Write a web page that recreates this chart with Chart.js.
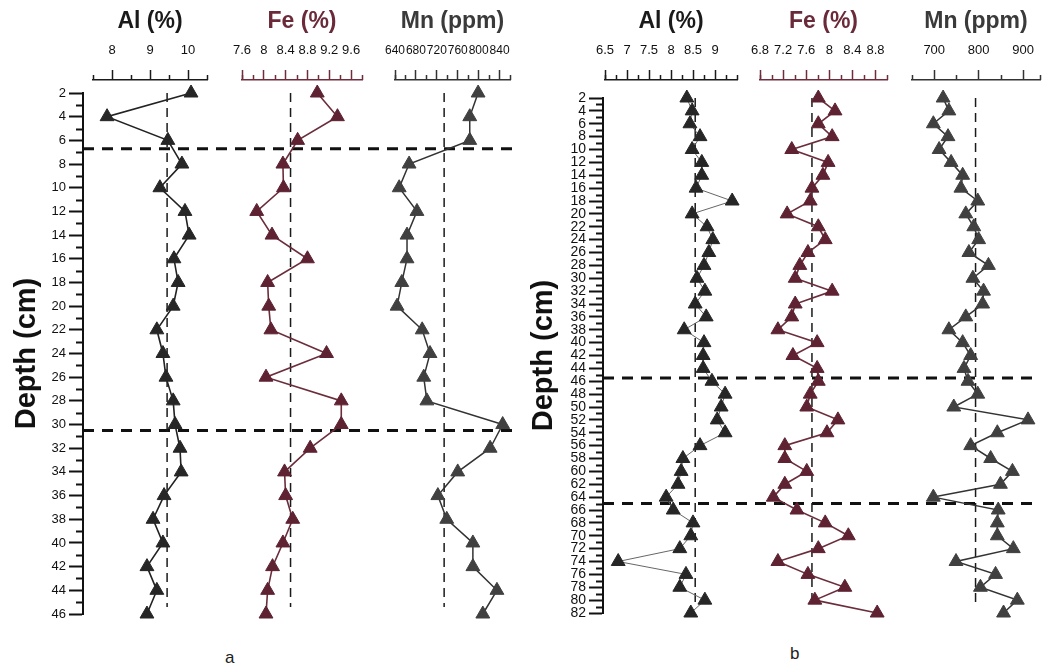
<!DOCTYPE html>
<html>
<head>
<meta charset="utf-8">
<script src="https://cdn.jsdelivr.net/npm/chart.js@4"></script>
<style>
  body { margin: 0; width: 1044px; height: 672px; overflow: hidden; position: relative; background: #fff;
         font-family: "Liberation Sans", Arial, sans-serif; }
  canvas { position: absolute; top: 0; }
  .panel-label { position: absolute; font-size: 17px; color: #222; }
</style>
</head>
<body>
<div class="panel-label" style="left:225px;top:648px">a</div>
<div class="panel-label" style="left:790px;top:644px">b</div>
<script>
// ---- panel a (core to 46 cm) ----
const depthA = [2, 4, 6, 8, 10, 12, 14, 16, 18, 20, 22, 24, 26, 28, 30, 32, 34, 36, 38, 40, 42, 44, 46];
const alA = [10.08, 7.87, 9.47, 9.84, 9.26, 9.92, 10.03, 9.63, 9.74, 9.61, 9.18, 9.34, 9.42, 9.61, 9.66, 9.79, 9.82, 9.37, 9.08, 9.34, 8.92, 9.18, 8.92];
const feA = [8.98, 9.35, 8.62, 8.35, 8.36, 7.87, 8.15, 8.80, 8.07, 8.09, 8.13, 9.15, 8.04, 9.42, 9.42, 8.85, 8.38, 8.40, 8.53, 8.35, 8.16, 8.07, 8.04];
const mnA = [799, 783, 783, 667, 648, 682, 663, 663, 653, 644, 692, 707, 695, 701, 846, 822, 760, 722, 739, 789, 789, 835, 808];
const meanA = [9.45, 8.49, 734];          // Al, Fe, Mn reference lines
const meanSpanA = [2, 45.4];
const breaksA = [6.7, 30.5];
const alTicksA = [8, 9, 10];
const feTicksA = [7.6, 8, 8.4, 8.8, 9.2, 9.6];
const mnTicksA = [640, 680, 720, 760, 800, 840];

// ---- panel b (core to 82 cm) ----
const depthB = [2, 4, 6, 8, 10, 12, 14, 16, 18, 20, 22, 24, 26, 28, 30, 32, 34, 36, 38, 40, 42,
                44, 46, 48, 50, 52, 54, 56, 58, 60, 62, 64, 66, 68, 70, 72, 74, 76, 78, 80, 82];
const alB = [8.36, 8.48, 8.43, 8.66, 8.48, 8.70, 8.70, 8.57, 9.39, 8.48, 8.82, 8.95, 8.86, 8.75, 8.59, 8.77, 8.55, 8.80, 8.30, 8.75, 8.73,
             8.73, 8.93, 9.23, 9.14, 9.05, 9.23, 8.66, 8.27, 8.23, 8.16, 7.89, 8.05, 8.50, 8.45, 8.20, 6.80, 8.34, 8.20, 8.77, 8.45];
const feB = [7.81, 8.10, 7.81, 8.05, 7.35, 7.98, 7.89, 7.70, 7.67, 7.27, 7.81, 7.93, 7.63, 7.49, 7.41, 8.05, 7.41, 7.35, 7.11, 7.79, 7.37,
             7.79, 7.81, 7.67, 7.61, 8.15, 7.96, 7.23, 7.23, 7.61, 7.23, 7.03, 7.44, 7.93, 8.33, 7.81, 7.11, 7.63, 8.27, 7.75, 8.83];
const mnB = [720, 733, 698, 731, 711, 738, 764, 760, 798, 771, 789, 800, 778, 822, 787, 811, 809, 771, 733, 764, 782,
             767, 776, 798, 744, 911, 842, 782, 827, 876, 849, 698, 844, 842, 842, 878, 749, 838, 804, 887, 856];
const meanB = [8.55, 7.70, 793];
const meanSpanB = [2, 81];
const breaksB = [45.5, 65];
const alTicksB = [6.5, 7, 7.5, 8, 8.5, 9];
const feTicksB = [6.8, 7.2, 7.6, 8, 8.4, 8.8];
const mnTicksB = [700, 800, 900];

Chart.defaults.font.family = '"Liberation Sans", Arial, sans-serif';
Chart.defaults.color = '#111';

const H = 672;
const AXIS_Y = 80;        // y of the top axis lines
const PLOT_BOTTOM = 640;

const AL_COLOR = '#262626', FE_COLOR = '#5e2232', MN_COLOR = '#404040';
const FE_AXIS = '#6e2c3c';

// short ticks between the labelled ones
const minorTicks = {
    id: 'minorTicks',
    afterDraw(chart, args, opts) {
        if (!opts.values) return;
        const s = chart.scales[opts.axis];
        const area = chart.chartArea;
        const ctx = chart.ctx;
        ctx.save();
        ctx.strokeStyle = opts.color;
        ctx.lineWidth = opts.width;
        ctx.beginPath();
        opts.values.forEach(v => {
            const p = Math.round(s.getPixelForValue(v)) + 0.5;
            if (opts.axis === 'x') {
                ctx.moveTo(p, area.top);
                ctx.lineTo(p, area.top - opts.length);
            } else {
                ctx.moveTo(area.left, p);
                ctx.lineTo(area.left - opts.length, p);
            }
        });
        ctx.stroke();
        ctx.restore();
    }
};

function makeCanvas(left, width) {
    const cv = document.createElement('canvas');
    cv.width = width;
    cv.height = H;
    cv.style.left = left + 'px';
    cv.style.width = width + 'px';
    cv.style.height = H + 'px';
    document.body.appendChild(cv);
    return cv;
}

function minorValues(range, step, majors) {
    const out = [range[0], range[1]];
    for (let v = range[0]; v <= range[1] + 1e-9; v += step) {
        if (!majors.some(m => Math.abs(m - v) < 1e-6)) out.push(v);
    }
    return out;
}

const plainNumber = v => String(+Number(v).toFixed(2));

function frame(p) {
    const cv = makeCanvas(p.left, p.width);
    const depth = p.depth;
    new Chart(cv, {
        type: 'scatter',
        data: {
            datasets: p.breaks.map(b => ({
                data: [{x: 0, y: b}, {x: 1, y: b}],
                showLine: true, borderColor: '#111', borderWidth: 3, borderDash: [11, 8], pointRadius: 0
            }))
        },
        options: {
            responsive: false, animation: false, events: [],
            layout: {padding: {left: p.titlePad, right: p.left + p.width - p.right, top: p.yFirst, bottom: H - p.yLast}},
            plugins: {
                legend: {display: false}, tooltip: {enabled: false},
                minorTicks: {axis: 'y', values: depth.slice(1).map(d => d - 1), length: 7, color: '#111', width: 2}
            },
            scales: {
                x: {type: 'linear', display: false, min: 0, max: 1},
                y: {
                    type: 'linear', reverse: true, min: depth[0], max: depth[depth.length - 1],
                    afterBuildTicks: s => { s.ticks = depth.map(v => ({value: v})); },
                    afterFit: s => { s.width = p.axisX - p.left - p.titlePad; s.paddingTop = 0; s.paddingBottom = 0; },
                    ticks: {autoSkip: false, padding: 3, color: '#111', font: {size: p.tickFont}, callback: plainNumber},
                    grid: {drawOnChartArea: false, tickLength: 14, tickWidth: 2, tickColor: '#111'},
                    border: {color: '#111', width: 2},
                    title: {display: true, text: 'Depth (cm)', color: '#111', font: {size: 29, weight: 'bold'}, padding: 0}
                }
            }
        },
        plugins: [minorTicks]
    });
}

function column(p, c) {
    const pad = 18;
    const cv = makeCanvas(c.x0 - pad, c.x1 - c.x0 + 2 * pad);
    const d0 = p.depth[0], dN = p.depth[p.depth.length - 1];
    const pxPerCm = (p.yLast - p.yFirst) / (dN - d0);
    const yMin = d0 - (p.yFirst - AXIS_Y) / pxPerCm;
    const yMax = dN + (PLOT_BOTTOM - p.yLast) / pxPerCm;
    new Chart(cv, {
        type: 'scatter',
        data: {
            datasets: [{
                data: p.depth.map((d, i) => ({x: c.values[i], y: d})),
                showLine: true, borderColor: c.line, borderWidth: c.lineWidth,
                backgroundColor: c.fill, pointBackgroundColor: c.fill, pointBorderColor: c.fill,
                pointStyle: 'triangle', pointRadius: 8, pointBorderWidth: 1, clip: false
            }, {
                data: p.meanSpan.map(d => ({x: c.mean, y: d})),
                showLine: true, borderColor: '#1a1a1a', borderWidth: 1.5, borderDash: [9, 6],
                pointRadius: 0, clip: false
            }]
        },
        options: {
            responsive: false, animation: false, events: [],
            layout: {padding: {left: pad, right: pad, top: 0, bottom: H - PLOT_BOTTOM}},
            plugins: {
                legend: {display: false}, tooltip: {enabled: false},
                minorTicks: {axis: 'x', values: minorValues(c.range, c.minorStep, c.ticks), length: 5, color: c.axis, width: 1.5}
            },
            scales: {
                x: {
                    type: 'linear', position: 'top', min: c.range[0], max: c.range[1],
                    afterBuildTicks: s => { s.ticks = c.ticks.map(v => ({value: v})); },
                    afterFit: s => { s.height = AXIS_Y; s.paddingLeft = 0; s.paddingRight = 0; },
                    ticks: {autoSkip: false, maxRotation: 0, minRotation: 0, padding: 12, color: '#111',
                            font: {size: c.fontSize || 13}, callback: plainNumber},
                    grid: {drawOnChartArea: false, drawTicks: true, tickLength: 10, tickWidth: 1.5, tickColor: c.axis},
                    border: {display: true, color: c.axis, width: 1.5},
                    title: {display: true, text: c.title, color: c.titleColor,
                            font: {size: 23, weight: 'bold'}, padding: {top: 8, bottom: 0}}
                },
                y: {type: 'linear', display: false, reverse: true, min: yMin, max: yMax}
            }
        },
        plugins: [minorTicks]
    });
}

const panelA = {depth: depthA, meanSpan: meanSpanA, breaks: breaksA, yFirst: 93, yLast: 614,
                left: 0, width: 524, titlePad: 10, axisX: 83, right: 520, tickFont: 13};
const panelB = {depth: depthB, meanSpan: meanSpanB, breaks: breaksB, yFirst: 98, yLast: 613,
                left: 522, width: 522, titlePad: 5, axisX: 603, right: 1038, tickFont: 14};

frame(panelA);
frame(panelB);

column(panelA, {x0: 93, x1: 207, range: [7.5, 10.5], ticks: alTicksA, minorStep: 0.5, values: alA, mean: meanA[0],
                title: 'Al (%)', titleColor: '#1a1a1a', axis: '#1a1a1a', fill: AL_COLOR, line: '#222', lineWidth: 1.6});
column(panelA, {x0: 242, x1: 362, range: [7.6, 9.8], ticks: feTicksA, minorStep: 0.2, values: feA, mean: meanA[1],
                title: 'Fe (%)', titleColor: '#6b2a3a', axis: FE_AXIS, fill: FE_COLOR, line: '#6b2d3b', lineWidth: 1.6});
column(panelA, {x0: 395, x1: 510, range: [640, 860], ticks: mnTicksA, minorStep: 20, values: mnA, mean: meanA[2],
                title: 'Mn (ppm)', titleColor: '#3a3a3a', axis: '#333', fill: MN_COLOR, line: '#333', lineWidth: 1.5, fontSize: 12});

column(panelB, {x0: 605, x1: 737, range: [6.5, 9.5], ticks: alTicksB, minorStep: 0.25, values: alB, mean: meanB[0],
                title: 'Al (%)', titleColor: '#1a1a1a', axis: '#1a1a1a', fill: AL_COLOR, line: '#666', lineWidth: 1});
column(panelB, {x0: 760, x1: 887, range: [6.8, 9.0], ticks: feTicksB, minorStep: 0.2, values: feB, mean: meanB[1],
                title: 'Fe (%)', titleColor: '#6b2a3a', axis: FE_AXIS, fill: FE_COLOR, line: '#6b2d3b', lineWidth: 1.6});
column(panelB, {x0: 912, x1: 1040, range: [650, 938], ticks: mnTicksB, minorStep: 50, values: mnB, mean: meanB[2],
                title: 'Mn (ppm)', titleColor: '#3a3a3a', axis: '#333', fill: MN_COLOR, line: '#333', lineWidth: 1.5});
</script>
</body>
</html>
